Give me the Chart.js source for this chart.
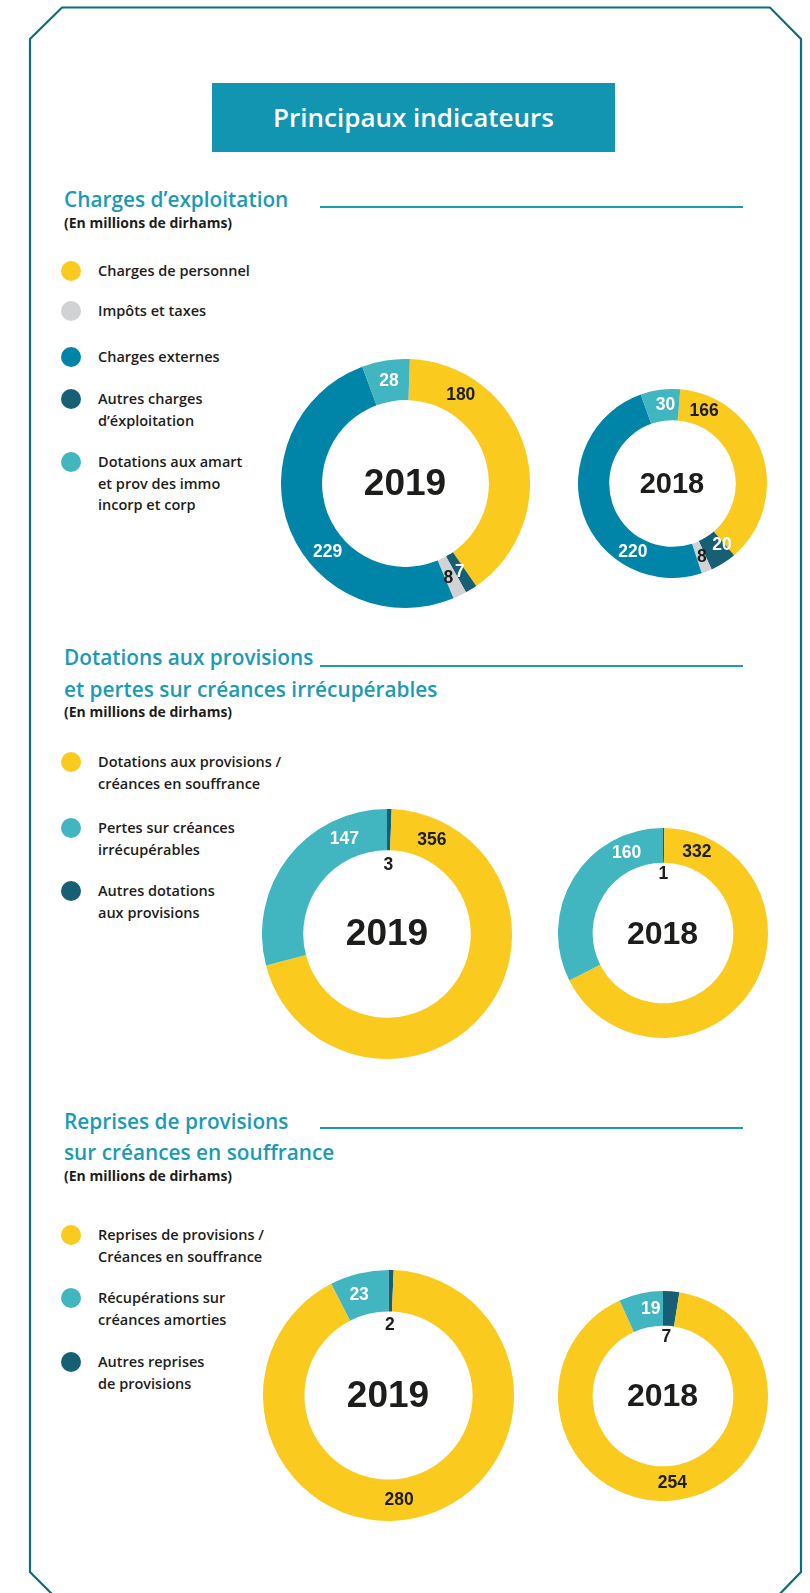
<!DOCTYPE html>
<html>
<head>
<meta charset="utf-8">
<script src="https://cdn.jsdelivr.net/npm/chart.js@4.4.1/dist/chart.umd.min.js"></script>
<style>
  body { margin: 0; background: #fff; }
  #page { position: relative; width: 810px; height: 1593px; overflow: hidden; font-family: "Open Sans", Lato, sans-serif; color: #1d1d1b; }
  .abs { position: absolute; white-space: nowrap; }
  .title { left: 212px; top: 83px; width: 403px; height: 69px; background: #1295b1; color: #fff;
           font-weight: 600; font-size: 26px; line-height: 69px; text-align: center; }
  .head { left: 64px; font-weight: 600; font-size: 20.8px; line-height: 24px; color: #1c9ab4; }
  .sub { left: 64px; font-weight: 700; font-size: 14px; line-height: 16px; }
  .rule { left: 320px; width: 423px; height: 2px; background: #1c9ab4; }
  .dot { width: 20px; height: 20px; border-radius: 50%; }
  .leg { left: 98px; font-weight: 600; font-size: 14.5px; line-height: 21.5px; }
  .year { font-family: "Liberation Sans", Arial, sans-serif; font-weight: 700; text-align: center; }
  canvas { position: absolute; }
</style>
</head>
<body>
<div id="page">
  <svg class="abs" style="left:0;top:0" width="810" height="1593">
    <polygon points="62,7.5 770,7.5 801,39 801,1572 770,1604 62,1604 30,1572 30,39"
             fill="none" stroke="#0f6e7b" stroke-width="2.2"/>
  </svg>
  <div class="abs title">Principaux indicateurs</div>
</div>
<script>
// colours
const YELLOW = '#faca1f';
const GREY = '#d1d2d4';
const BLUE = '#0085a8';
const DARK = '#165f74';
const TEAL = '#41b6c0';

// --- section 1: Charges d'exploitation (legend order)
const opexCats = ['Charges de personnel', 'Impôts et taxes', 'Charges externes',
  'Autres charges\nd’éxploitation', 'Dotations aux amart\net prov des immo\nincorp et corp'];
const opexColors = [YELLOW, GREY, BLUE, DARK, TEAL];
const opex2019 = [180, 8, 229, 7, 28];
const opex2018 = [166, 8, 220, 20, 30];
// clockwise order of the slices from the top
const opexRing = [0, 3, 1, 2, 4];

// --- section 2: Dotations aux provisions
const dotCats = ['Dotations aux provisions /\ncréances en souffrance', 'Pertes sur créances\nirrécupérables',
  'Autres dotations\naux provisions'];
const dotColors = [YELLOW, TEAL, DARK];
const dot2019 = [356, 147, 3];
const dot2018 = [332, 160, 1];
const dotRing = [2, 0, 1];

// --- section 3: Reprises de provisions
const repCats = ['Reprises de provisions /\nCréances en souffrance', 'Récupérations sur\ncréances amorties',
  'Autres reprises\nde provisions'];
const repColors = [YELLOW, TEAL, DARK];
const rep2019 = [280, 23, 2];
const rep2018 = [254, 19, 7];
const repRing = [2, 0, 1];

const page = document.getElementById('page');

function el(cls, style, text) {
  const d = document.createElement('div');
  d.className = 'abs ' + cls;
  Object.assign(d.style, style);
  if (text !== undefined) d.textContent = text;
  page.appendChild(d);
  return d;
}

// headings: lines, centre y of each line, y of the rule
function section(lines, ys, subY, ruleY) {
  lines.forEach((t, i) => el('head', { top: (ys[i] - 12) + 'px' }, t));
  el('sub', { top: (subY - 8) + 'px' }, '(En millions de dirhams)');
  el('rule', { top: (ruleY - 1) + 'px' });
}

function legend(cats, colors, ys) {
  cats.forEach((c, i) => {
    el('dot', { left: '61px', top: (ys[i] - 10) + 'px', background: colors[i] });
    const d = el('leg', { top: (ys[i] - 10.75) + 'px' });
    d.innerText = c;
  });
}

section(['Charges d’exploitation'], [199], 223, 207);
legend(opexCats, opexColors, [271, 311, 357, 399, 462]);

section(['Dotations aux provisions', 'et pertes sur créances irrécupérables'], [657, 689], 712, 666);
legend(dotCats, dotColors, [762, 828, 891]);

section(['Reprises de provisions', 'sur créances en souffrance'], [1121, 1152], 1176, 1128);
legend(repCats, repColors, [1235, 1298, 1362]);

// draws each value on its slice; frac = where along the slice, inside = put it in the hole
const arcLabels = {
  id: 'arcLabels',
  afterDatasetsDraw(chart, args, opts) {
    const ctx = chart.ctx;
    const ds = chart.data.datasets[0];
    chart.getDatasetMeta(0).data.forEach((arc, i) => {
      const p = arc.getProps(['x', 'y', 'startAngle', 'endAngle', 'innerRadius', 'outerRadius'], true);
      const a = p.startAngle + (p.endAngle - p.startAngle) * opts.frac[i];
      const r = opts.inside[i] ? p.innerRadius - opts.inset : (p.innerRadius + p.outerRadius) / 2;
      const bg = ds.backgroundColor[i];
      ctx.save();
      ctx.font = '700 ' + opts.size + 'px "Liberation Sans", Arial, sans-serif';
      ctx.textAlign = 'center';
      ctx.textBaseline = 'middle';
      ctx.fillStyle = (opts.inside[i] || bg === YELLOW || bg === GREY) ? '#1d1d1b' : '#ffffff';
      ctx.fillText(String(ds.data[i]), p.x + r * Math.cos(a), p.y + r * Math.sin(a));
      ctx.restore();
    });
  }
};

function donut(values, colors, ring, year, box, lab) {
  const size = Math.round(box.r * 2);
  const c = document.createElement('canvas');
  c.width = size; c.height = size;
  c.style.left = (box.cx - size / 2) + 'px';
  c.style.top = (box.cy - size / 2) + 'px';
  c.style.width = size + 'px'; c.style.height = size + 'px';
  page.appendChild(c);
  new Chart(c, {
    type: 'doughnut',
    data: {
      labels: ring.map(i => i),
      datasets: [{
        data: ring.map(i => values[i]),
        backgroundColor: ring.map(i => colors[i]),
        borderWidth: 0
      }]
    },
    options: {
      responsive: false,
      animation: false,
      cutout: '67%',
      rotation: box.rot,
      layout: { padding: 0 },
      events: [],
      plugins: {
        legend: { display: false },
        tooltip: { enabled: false },
        arcLabels: { frac: lab.frac, inside: lab.inside, inset: lab.inset || 12, size: box.label }
      }
    },
    plugins: [arcLabels]
  });
  el('year', { left: (box.cx - 60) + 'px', width: '120px', top: (box.cy - box.font * 0.6) + 'px',
    fontSize: box.font + 'px', lineHeight: (box.font * 1.2) + 'px' }, year);
}

donut(opex2019, opexColors, opexRing, '2019',
  { cx: 405, cy: 483, r: 124.5, rot: 2, font: 37, label: 17.5 },
  { frac: [0.21, 0.55, 0.75, 0.39, 0.5], inside: [0, 0, 0, 0, 0] });
donut(opex2018, opexColors, opexRing, '2018',
  { cx: 672, cy: 483, r: 94.5, rot: 4.7, font: 29, label: 17.5 },
  { frac: [0.14, 0.12, 0.4, 0.27, 0.6], inside: [0, 0, 0, 0, 0] });

donut(dot2019, dotColors, dotRing, '2019',
  { cx: 387, cy: 933.5, r: 125, rot: 0, font: 37, label: 17.5 },
  { frac: [0.5, 0.092, 0.77], inside: [1, 0, 0], inset: 15 });
donut(dot2018, dotColors, dotRing, '2018',
  { cx: 662.5, cy: 933, r: 105, rot: 0, font: 32, label: 17.5 },
  { frac: [0.5, 0.091, 0.79], inside: [1, 0, 0], inset: 12 });

donut(rep2019, repColors, repRing, '2019',
  { cx: 388, cy: 1395.5, r: 125.5, rot: 0, font: 37, label: 17.5 },
  { frac: [0.5, 0.52, 0.4], inside: [1, 0, 0], inset: 14 });
donut(rep2018, repColors, repRing, '2018',
  { cx: 662.5, cy: 1395.5, r: 105, rot: 0, font: 32, label: 17.5 },
  { frac: [0.35, 0.505, 0.67], inside: [1, 0, 0], inset: 11 });
</script>
</body>
</html>
